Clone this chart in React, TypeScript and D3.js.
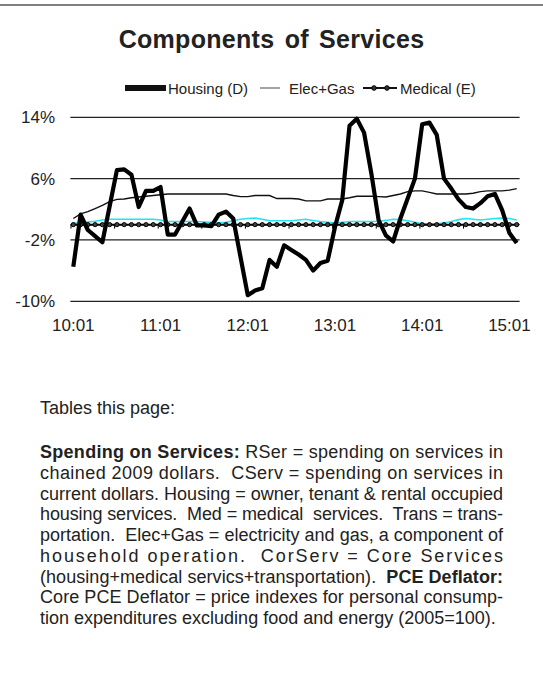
import * as d3 from "d3";

// monthly % changes, 2010:01 .. 2015:02
const housing = [
  -5.5, 1.3, -0.7, -1.5, -2.3, 2.4, 7.1, 7.2, 6.5, 2.3, 4.4, 4.4, 4.9, -1.3, -1.3, 0.4,
  2.1, -0.1, -0.1, -0.2, 1.3, 1.7, 0.8, -4.2, -9.2, -8.6, -8.3, -4.6, -5.5, -2.7, -3.3,
  -3.9, -4.6, -6.0, -5.0, -4.7, -0.3, 3.2, 12.9, 13.8, 12.0, 6.7, 0.6, -1.4, -2.2, 0.8,
  3.4, 6.0, 13.1, 13.3, 11.7, 6.0, 4.7, 3.3, 2.3, 2.1, 2.8, 3.7, 4.0, 1.9, -1.1, -2.4,
];
const elecGas = [
  0.8, 1.4, 1.7, 2.1, 2.5, 3.0, 3.3, 3.35, 3.5, 3.6, 3.7, 3.8, 3.9, 4.0, 4.0, 4.0,
  4.0, 4.0, 4.0, 4.0, 4.0, 4.0, 3.8, 3.65, 3.65, 3.8, 3.8, 3.8, 3.4, 3.4, 3.4,
  3.35, 3.1, 3.1, 3.1, 3.35, 3.35, 3.35, 3.5, 3.7, 3.7, 3.7, 3.65, 3.6, 3.8, 4.0,
  4.3, 4.4, 4.4, 4.2, 4.0, 4.0, 4.0, 4.0, 4.0, 4.1, 4.3, 4.4, 4.4, 4.4, 4.5, 4.7,
];
const medical = [
  0, 0, 0, 0, 0, 0, 0, 0, 0, 0, 0, 0, 0, 0, 0, 0,
  0, 0, 0, 0, 0, 0, 0, 0, 0, 0, 0, 0, 0, 0, 0,
  0, 0, 0, 0, 0, 0, 0, 0, 0, 0, 0, 0, 0, 0, 0,
  0, 0, 0, 0, 0, 0, 0, 0, 0, 0, 0, 0, 0, 0, 0, 0,
];
// unlabelled cyan series
const cyanSeries = [
  0.2, 0.25, 0.35, 0.45, 0.6, 0.7, 0.7, 0.7, 0.7, 0.7, 0.7, 0.7, 0.6, 0.4, 0.4, 0.4,
  0.4, 0.4, 0.35, 0.3, 0.25, 0.3, 0.5, 0.7, 0.8, 0.85, 0.7, 0.5, 0.5, 0.5, 0.5,
  0.6, 0.7, 0.55, 0.4, 0.3, 0.2, 0.3, 0.4, 0.4, 0.4, 0.4, 0.45, 0.55, 0.7, 0.65,
  0.5, 0.3, 0.1, 0.1, 0.1, 0.2, 0.4, 0.65, 0.8, 0.7, 0.6, 0.7, 0.8, 0.85, 0.8, 0.6,
];

const yTicks = [14, 6, -2, -10];
const xLabels = ["10:01", "11:01", "12:01", "13:01", "14:01", "15:01"];
const xLabelMonths = [0, 12, 24, 36, 48, 60];
const tickMonths = [0, 6, 12, 18, 24, 30, 36, 42, 48, 54, 60];

const legendItems = ["Housing (D)", "Elec+Gas", "Medical (E)"];

const paragraph: { t: string; b?: boolean }[][] = [
  [{ t: "Spending on Services:", b: true }, { t: " RSer = spending on services in" }],
  [{ t: "chained 2009 dollars.  CServ = spending on services in" }],
  [{ t: "current dollars. Housing = owner, tenant & rental occupied" }],
  [{ t: "housing services.  Med = medical  services.  Trans = trans-" }],
  [{ t: "portation.  Elec+Gas = electricity and gas, a component of" }],
  [{ t: "household operation.  CorServ = Core Services" }],
  [{ t: "(housing+medical servics+transportation).  " }, { t: "PCE Deflator:", b: true }],
  [{ t: "Core PCE Deflator = price indexes for personal consump-" }],
  [{ t: "tion expenditures excluding food and energy (2005=100)." }],
];

const FONT = "Liberation Sans, Arial, Helvetica, sans-serif";

export default function App() {
  const W = 543;
  const H = 691;

  const x = d3.scaleLinear().domain([0, housing.length - 1]).range([73.3, 516.7]);
  const y = d3.scaleLinear().domain([-10, 14]).range([301.3, 117.3]);
  const gx0 = x(-0.4);
  const gx1 = x(61.4);

  const line = d3
    .line<number>()
    .x((_, i) => x(i))
    .y((d) => y(d));

  const paraX = 40;
  const paraW = 463;
  const paraY0 = 458;
  const paraStep = 20.75;

  return (
    <div style={{ position: "absolute", left: 0, top: 0 }}>
      <svg width={W} height={H} style={{ display: "block", background: "#fff" }} fontFamily={FONT}>
        <line x1={0} x2={W} y1={5} y2={5} stroke="#555" strokeWidth={1.5} />

        <text
          x={W / 2}
          y={48}
          textAnchor="middle"
          fontSize={25}
          fontWeight="bold"
          fill="#222"
          style={{ letterSpacing: "0.3px", wordSpacing: "3px" }}
        >
          Components of Services
        </text>

        {/* legend */}
        <g fill="#222" fontSize={15}>
          <line x1={125} x2={166} y1={88} y2={88} stroke="#111" strokeWidth={6} />
          <text x={168} y={93.5}>{legendItems[0]}</text>
          <line x1={260} x2={280} y1={88} y2={88} stroke="#666" strokeWidth={1.2} />
          <text x={289} y={93.5}>{legendItems[1]}</text>
          <line x1={363} x2={397} y1={88} y2={88} stroke="#111" strokeWidth={2} />
          <circle cx={374} cy={88} r={2.3} fill="#333" stroke="#000" strokeWidth={1} />
          <circle cx={387} cy={88} r={2.3} fill="#333" stroke="#000" strokeWidth={1} />
          <text x={400} y={93.5}>{legendItems[2]}</text>
        </g>

        {/* gridlines + y labels */}
        {yTicks.map((t) => (
          <g key={t}>
            <line x1={gx0} x2={gx1} y1={y(t)} y2={y(t)} stroke="#222" strokeWidth={1.2} />
            <text x={55} y={y(t) + 6} textAnchor="end" fontSize={17} fill="#222">
              {t}%
            </text>
          </g>
        ))}

        {/* x axis at zero */}
        <line x1={gx0} x2={gx1} y1={y(0)} y2={y(0)} stroke="#000" strokeWidth={1} />
        {tickMonths.map((m) => (
          <line key={m} x1={x(m - 0.32)} x2={x(m - 0.32)} y1={y(0)} y2={y(0) + 4} stroke="#000" strokeWidth={1} />
        ))}
        {xLabels.map((l, i) => (
          <text key={l} x={x(xLabelMonths[i])} y={331} textAnchor="middle" fontSize={17} fill="#222">
            {l}
          </text>
        ))}

        {/* series */}
        <path d={line(cyanSeries) || ""} fill="none" stroke="#22e4f2" strokeWidth={1.6} />
        <path d={line(elecGas) || ""} fill="none" stroke="#111" strokeWidth={1.4} />
        <path d={line(medical) || ""} fill="none" stroke="#000" strokeWidth={2} />
        {medical.map((v, i) => (
          <circle key={i} cx={x(i)} cy={y(v)} r={2.1} fill="#444" stroke="#000" strokeWidth={1} />
        ))}
        <path d={line(housing) || ""} fill="none" stroke="#000" strokeWidth={4.2} strokeLinejoin="round" />

        {/* notes */}
        <text x={paraX} y={414} fontSize={18} fill="#222">
          Tables this page:
        </text>
        {paragraph.map((segs, i) => {
          const last = i === paragraph.length - 1;
          return (
            <text
              key={i}
              x={paraX}
              y={paraY0 + i * paraStep}
              fontSize={18}
              fill="#222"
              style={{ whiteSpace: "pre" }}
              {...(last ? {} : { textLength: paraW, lengthAdjust: "spacing" })}
            >
              {segs.map((s, j) => (
                <tspan key={j} fontWeight={s.b ? "bold" : "normal"}>
                  {s.t}
                </tspan>
              ))}
            </text>
          );
        })}
      </svg>
    </div>
  );
}
